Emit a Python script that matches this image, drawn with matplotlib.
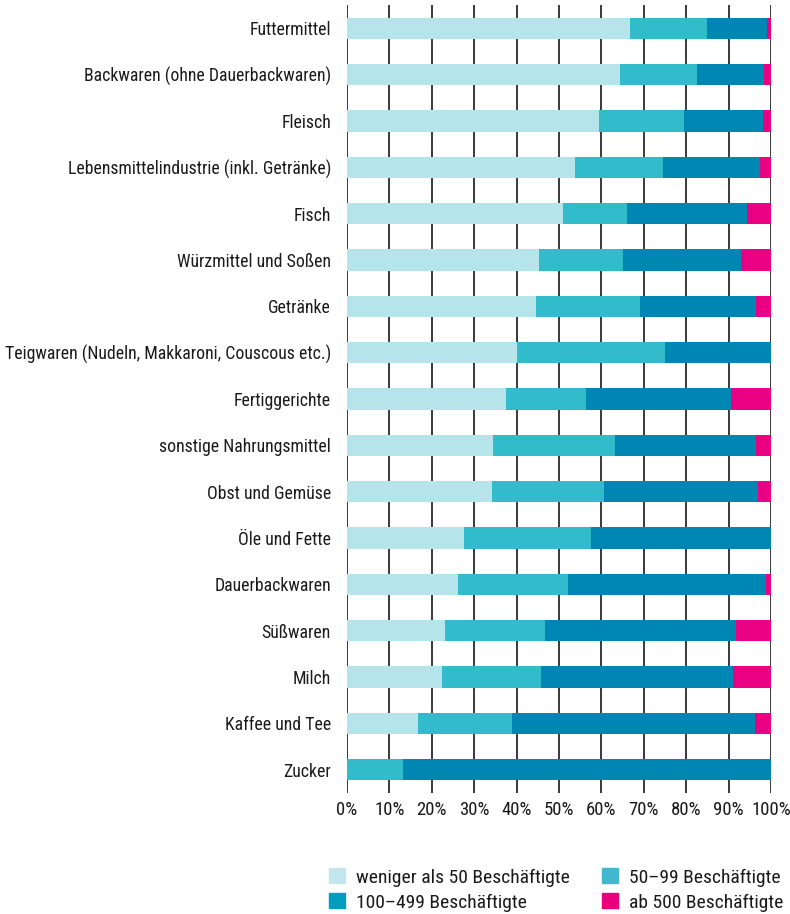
import numpy as np
import matplotlib.pyplot as plt
from matplotlib.patches import Patch

categories = [
    "Futtermittel",
    "Backwaren (ohne Dauerbackwaren)",
    "Fleisch",
    "Lebensmittelindustrie (inkl. Getränke)",
    "Fisch",
    "Würzmittel und Soßen",
    "Getränke",
    "Teigwaren (Nudeln, Makkaroni, Couscous etc.)",
    "Fertiggerichte",
    "sonstige Nahrungsmittel",
    "Obst und Gemüse",
    "Öle und Fette",
    "Dauerbackwaren",
    "Süßwaren",
    "Milch",
    "Kaffee und Tee",
    "Zucker",
]

# Anteile in Prozent
under_50 = [66.8, 64.3, 59.5, 53.8, 51.0, 45.4, 44.6, 40.1, 37.5, 34.5, 34.3, 27.7, 26.2, 23.0, 22.4, 16.7, 0.0]
emp_50_99 = [18.0, 18.3, 20.0, 20.7, 15.1, 19.7, 24.4, 34.9, 18.9, 28.8, 26.4, 29.9, 26.0, 23.7, 23.3, 22.3, 13.1]
emp_100_499 = [14.3, 15.8, 18.7, 23.0, 28.2, 27.9, 27.5, 25.0, 34.2, 33.2, 36.3, 42.4, 46.7, 45.1, 45.3, 57.3, 86.9]
from_500 = [0.9, 1.6, 1.8, 2.5, 5.7, 7.0, 3.5, 0.0, 9.4, 3.5, 3.0, 0.0, 1.1, 8.2, 9.0, 3.7, 0.0]

series = [under_50, emp_50_99, emp_100_499, from_500]
labels = ["weniger als 50 Beschäftigte", "50–99 Beschäftigte",
          "100–499 Beschäftigte", "ab 500 Beschäftigte"]
colors = ["#b5e5ea", "#32bccb", "#0086b3", "#ea0082"]
# the legend swatches are printed in slightly different tones
legend_colors = ["#c3e6ee", "#44b7d0", "#009dc0", "#e8007d"]

plt.rcParams['font.family'] = ['Roboto Condensed', 'Liberation Sans Narrow', 'DejaVu Sans']
plt.rcParams['font.size'] = 12.8

fig = plt.figure(figsize=(7.9, 9.14), dpi=100)
ax = fig.add_axes([0.4392, 0.1324, 0.5368, 0.8621])

y = np.arange(len(categories))
left = np.zeros(len(categories))
for vals, lab, col in zip(series, labels, colors):
    vals = np.array(vals)
    ax.barh(y, vals, left=left, height=0.46, color=col, label=lab, zorder=3)
    left += vals

ax.set_xlim(0, 100)
ax.set_ylim(len(categories) - 0.5, -0.5)
ax.set_yticks(y)
ax.set_yticklabels(categories)
ax.set_xticks(np.arange(0, 101, 10))
ax.set_xticklabels([f"{v}%" for v in range(0, 101, 10)])
ax.tick_params(axis='y', length=0, pad=11.5, labelcolor='#1a1a1a')
ax.tick_params(axis='x', length=0, pad=6, labelcolor='#1a1a1a', labelsize=13.5)
ax.grid(axis='x', color='#2a2a2a', linewidth=1.3, zorder=1)
ax.set_axisbelow(True)
for s in ax.spines.values():
    s.set_visible(False)

order = [0, 2, 1, 3]
handles = [Patch(color=legend_colors[i]) for i in order]
leg_labels = [labels[i] for i in order]
fig.legend(handles, leg_labels, ncol=2, loc='upper left',
           bbox_to_anchor=(0.4165, 0.050), frameon=False, fontsize=14,
           handlelength=0.82, handleheight=0.82, handletextpad=0.57,
           columnspacing=1.65, labelspacing=0.34, borderaxespad=0,
           borderpad=0, labelcolor='#1a1a1a')

fig.savefig("out.png", dpi=100)
